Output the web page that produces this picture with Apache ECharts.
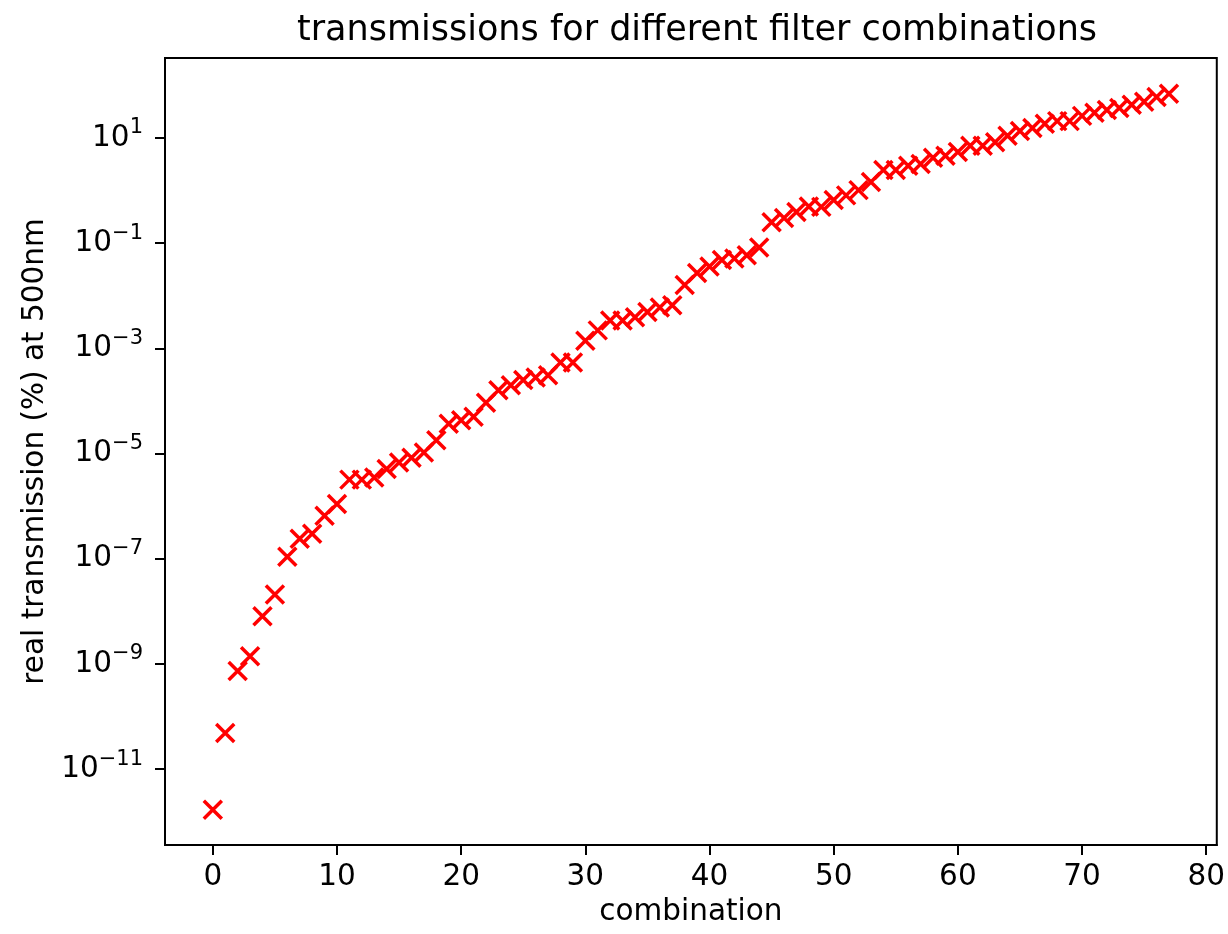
<!DOCTYPE html>
<html>
<head>
<meta charset="utf-8">
<script src="https://cdn.jsdelivr.net/npm/echarts@6/dist/echarts.min.js"></script>
<style>
html,body{margin:0;padding:0;background:#fff;}
#chart{width:1228px;height:934px;}
</style>
</head>
<body>
<div id="chart"></div>
<script>
// real transmission (%) at 500nm for each filter combination (index = combination)
const transmission = [
  1.7e-12, 4.9e-11, 7.4e-10, 1.4e-9, 8.1e-9, 2.1e-8, 1.1e-7, 2.4e-7, 3.0e-7, 6.6e-7,
  1.1e-6, 3.2e-6, 3.2e-6, 3.5e-6, 5.1e-6, 6.8e-6, 8.3e-6, 1.05e-5, 1.8e-5, 3.7e-5,
  4.3e-5, 5.0e-5, 9.3e-5, 1.6e-4, 2.0e-4, 2.5e-4, 2.8e-4, 3.1e-4, 5.4e-4, 5.4e-4,
  1.4e-3, 2.2e-3, 3.4e-3, 3.4e-3, 3.9e-3, 4.9e-3, 6.0e-3, 6.6e-3, 0.016, 0.027,
  0.036, 0.048, 0.051, 0.059, 0.083, 0.25, 0.30, 0.39, 0.50, 0.49,
  0.66, 0.81, 1.02, 1.45, 2.45, 2.45, 2.95, 3.2, 4.2, 4.6,
  5.4, 7.1, 7.1, 8.3, 11.0, 13.5, 15.5, 18.6, 20.9, 20.9,
  26.3, 30.2, 33.9, 37.2, 42.7, 49.0, 60.3, 69.2
];
const xTicks = [0, 10, 20, 30, 40, 50, 60, 70, 80];
const yTicks = [1e-11, 1e-9, 1e-7, 1e-5, 1e-3, 1e-1, 1e1];

const titleText = 'transmissions for different filter combinations';
const xName = 'combination';
const yName = 'real transmission (%) at 500nm';

const FONT = 'DejaVu Sans';
const chart = echarts.init(document.getElementById('chart'), null, {renderer: 'canvas'});

const points = transmission.map((v, i) => [i, v]);

chart.setOption({
  animation: false,
  backgroundColor: '#ffffff',
  title: {
    text: titleText,
    left: 692,
    top: 8,
    textAlign: 'center',
    textStyle: {fontFamily: FONT, fontSize: 35, fontWeight: 'normal', color: '#000'}
  },
  grid: {
    left: 165, right: 8, top: 58, bottom: 89,
    show: true, borderColor: '#000', borderWidth: 2, backgroundColor: 'transparent'
  },
  xAxis: {
    type: 'value',
    min: -3.85, max: 80.85,
    name: xName,
    nameLocation: 'middle',
    nameGap: 50,
    nameTextStyle: {fontFamily: FONT, fontSize: 29.5, color: '#000'},
    axisLine: {show: true, onZero: false, lineStyle: {color: '#000', width: 2}},
    axisTick: {show: true, length: 10, lineStyle: {color: '#000', width: 2}, customValues: xTicks},
    axisLabel: {
      show: true, margin: 17, color: '#000', fontFamily: FONT, fontSize: 29.5,
      customValues: xTicks,
      formatter: v => String(Math.round(v))
    },
    splitLine: {show: false}
  },
  yAxis: {
    type: 'log',
    logBase: 10,
    min: Math.pow(10, -12.44),
    max: Math.pow(10, 2.52),
    name: yName,
    nameLocation: 'middle',
    nameGap: 103,
    nameRotate: 90,
    nameTextStyle: {fontFamily: FONT, fontSize: 29.5, color: '#000'},
    axisLine: {show: true, onZero: false, lineStyle: {color: '#000', width: 2}},
    axisTick: {show: true, length: 10, lineStyle: {color: '#000', width: 2}, customValues: yTicks},
    axisLabel: {
      show: true, margin: 22, color: '#000',
      customValues: yTicks,
      formatter: v => {
        const e = Math.round(Math.log10(v));
        return '{b|10}{s|' + String(e).replace('-', '\u2212') + '}';
      },
      rich: {
        b: {fontFamily: FONT, fontSize: 29.5, color: '#000', lineHeight: 32},
        s: {fontFamily: FONT, fontSize: 21, color: '#000', lineHeight: 22, padding: [0, 0, 20, 0]}
      }
    },
    splitLine: {show: false},
    minorTick: {show: false}
  },
  series: [{
    type: 'scatter',
    data: points,
    symbol: 'path://M0,0L10,10M10,0L0,10',
    symbolSize: 18,
    itemStyle: {color: 'rgba(0,0,0,0)', borderColor: '#ff0000', borderWidth: 3.5, opacity: 1},
    emphasis: {disabled: true}
  }]
});
</script>
</body>
</html>
